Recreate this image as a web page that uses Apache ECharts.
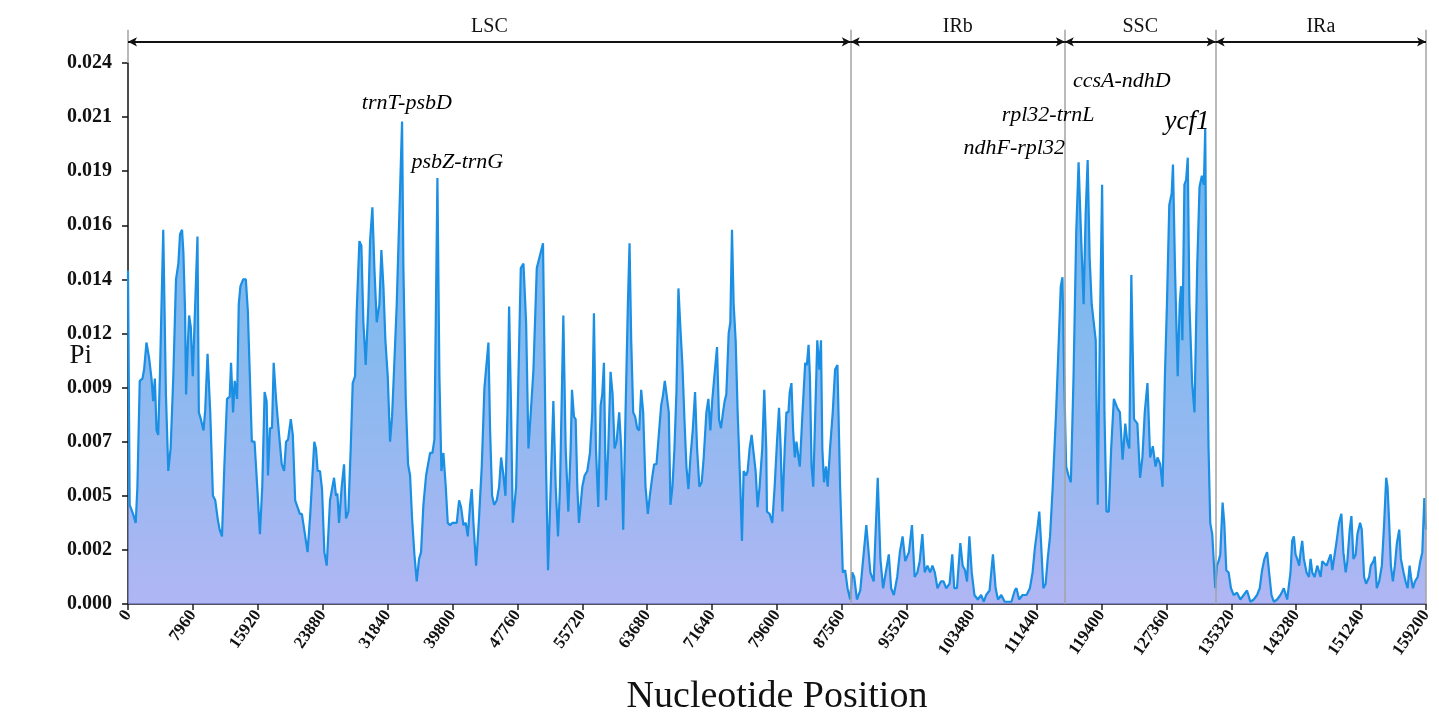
<!DOCTYPE html>
<html>
<head>
<meta charset="utf-8">
<script src="https://cdn.jsdelivr.net/npm/echarts@6/dist/echarts.min.js"></script>
<style>
  html, body { margin: 0; padding: 0; background: #fff; }
  #main { width: 1439px; height: 713px; }
</style>
</head>
<body>
<div id="main"></div>
<script>
// 滑动窗口核苷酸多样性 (Pi)，[位置, Pi]
var lscData = [
  [0,0.0148],[206,0.0044],[618,0.0040],[947,0.0036],[1153,0.0052],[1441,0.0099],[1770,0.0100],[1976,0.0104],[2264,0.0116],[2594,0.0109],
  [2882,0.0100],[3088,0.0090],[3294,0.0100],[3499,0.0077],[3705,0.0075],[3911,0.0101],[4323,0.0166],[4652,0.0093],[4940,0.0059],[5229,0.0069],
  [5558,0.0101],[5887,0.0144],[6176,0.0151],[6381,0.0164],[6628,0.0166],[6793,0.0156],[6999,0.0130],[7122,0.0093],[7328,0.0114],[7493,0.0128],
  [7699,0.0123],[7946,0.0101],[8522,0.0163],[8687,0.0085],[8934,0.0082],[9263,0.0077],[9469,0.0086],[9757,0.0111],[10087,0.0085],[10416,0.0048],
  [10704,0.0046],[10992,0.0038],[11239,0.0033],[11528,0.0030],[11816,0.0061],[12145,0.0091],[12475,0.0092],[12639,0.0107],[12886,0.0085],[13092,0.0099],
  [13380,0.0091],[13586,0.0133],[13792,0.0141],[14121,0.0144],[14451,0.0144],[14698,0.0130],[14945,0.0101],[15192,0.0072],[15521,0.0072],[15850,0.0052],
  [16180,0.0031],[16468,0.0052],[16756,0.0094],[17003,0.0090],[17168,0.0057],[17415,0.0078],[17662,0.0078],[17868,0.0107],[18156,0.0091],[18486,0.0077],
  [18856,0.0062],[19144,0.0059],[19391,0.0072],[19638,0.0073],[19967,0.0082],[20214,0.0075],[20503,0.0046],[20791,0.0043],[21079,0.0040],[21326,0.0040],
  [21614,0.0033],[22026,0.0023],[22355,0.0040],[22849,0.0072],[23055,0.0069],[23261,0.0059],[23549,0.0059],[23796,0.0051],[24084,0.0023],[24372,0.0017],
  [24780,0.0046],[24984,0.0046],[25271,0.0056],[25516,0.0048],[25680,0.0049],[25884,0.0036],[26211,0.0052],[26498,0.0062],[26743,0.0038],[27029,0.0041],
  [27316,0.0069],[27561,0.0098],[27847,0.0101],[28052,0.0130],[28379,0.0161],[28624,0.0159],[28870,0.0125],[29156,0.0106],[29483,0.0133],[29688,0.0161],
  [29974,0.0176],[30220,0.0149],[30506,0.0125],[30833,0.0133],[31078,0.0157],[31324,0.0141],[31569,0.0117],[31856,0.0101],[32142,0.0072],[32387,0.0083],
  [32633,0.0104],[32960,0.0133],[33614,0.0214],[33778,0.0149],[34064,0.0091],[34350,0.0062],[34596,0.0057],[34841,0.0038],[35128,0.0022],[35414,0.0010],
  [35700,0.0020],[35946,0.0023],[36232,0.0044],[36559,0.0057],[36804,0.0062],[37050,0.0067],[37336,0.0067],[37582,0.0073],[37950,0.0189],[38195,0.0101],
  [38440,0.0059],[38686,0.0067],[38972,0.0052],[39218,0.0036],[39504,0.0035],[39790,0.0036],[40036,0.0036],[40322,0.0036],[40608,0.0046],[40854,0.0043],
  [41140,0.0035],[41426,0.0036],[41672,0.0030],[41958,0.0044],[42162,0.0051],[42367,0.0036],[42694,0.0017],[43021,0.0036],[43389,0.0061],[43716,0.0096],
  [44207,0.0116],[44412,0.0077],[44657,0.0048],[44902,0.0044],[45230,0.0046],[45516,0.0052],[45762,0.0065],[46048,0.0057],[46293,0.0048],[46539,0.0085],
  [46743,0.0132],[46989,0.0085],[47193,0.0036],[47602,0.0052],[47888,0.0101],[48175,0.0149],[48502,0.0151],[48829,0.0125],[49116,0.0069],[49402,0.0085],
  [49729,0.0104],[50138,0.0149],[50900,0.0160],[51232,0.0069],[51518,0.0015],[51844,0.0052],[52170,0.0090],[52456,0.0052],[52742,0.0030],[52986,0.0052],
  [53394,0.0128],[53680,0.0069],[54006,0.0041],[54292,0.0069],[54455,0.0095],[54700,0.0083],[54904,0.0082],[55108,0.0052],[55312,0.0036],[55720,0.0052],
  [56006,0.0057],[56332,0.0059],[56658,0.0067],[56944,0.0085],[57148,0.0129],[57393,0.0069],[57678,0.0043],[57964,0.0088],[58168,0.0093],[58372,0.0107],
  [58617,0.0046],[58902,0.0069],[59188,0.0103],[59433,0.0093],[59678,0.0069],[59922,0.0072],[60249,0.0085],[60494,0.0069],[60738,0.0033],[61024,0.0085],
  [61310,0.0133],[61514,0.0160],[61718,0.0117],[61962,0.0085],[62207,0.0083],[62452,0.0078],[62697,0.0077],[62942,0.0095],[63186,0.0085],[63472,0.0052],
  [63758,0.0040],[64002,0.0048],[64288,0.0056],[64533,0.0062],[64818,0.0062],[65104,0.0075],[65390,0.0088],[65634,0.0093],[65838,0.0099],[66124,0.0091],
  [66328,0.0085],[66532,0.0044],[66777,0.0052],[67022,0.0069],[67266,0.0094],[67511,0.0140],[67756,0.0122],[68001,0.0106],[68246,0.0082],[68490,0.0061],
  [68735,0.0051],[68980,0.0065],[69266,0.0077],[69551,0.0094],[69796,0.0069],[70082,0.0052],[70367,0.0054],[70612,0.0065],[70938,0.0085],[71183,0.0091],
  [71428,0.0077],[71673,0.0091],[71918,0.0101],[72244,0.0114],[72489,0.0082],[72734,0.0078],[72978,0.0085],[73182,0.0090],[73386,0.0093],[73672,0.0120],
  [73876,0.0125],[74080,0.0166],[74284,0.0133],[74529,0.0117],[74774,0.0085],[75100,0.0052],[75304,0.0028],[75508,0.0059],[75794,0.0057],[75998,0.0059],
  [76242,0.0069],[76487,0.0075],[76732,0.0075],[76977,0.0059],[77222,0.0043],[77466,0.0052],[77792,0.0069],[78038,0.0095],[78282,0.0069],[78365,0.0041],
  [78694,0.0040],[79023,0.0036],[79312,0.0052],[79600,0.0072],[79847,0.0087],[80053,0.0069],[80259,0.0041],[80547,0.0069],[80753,0.0085],[81000,0.0085],
  [81165,0.0094],[81371,0.0098],[81577,0.0077],[81783,0.0065],[81988,0.0072],[82236,0.0065],[82400,0.0061],[82730,0.0085],[83059,0.0107],[83265,0.0106],
  [83471,0.0115],[83636,0.0101],[83842,0.0061],[84047,0.0052],[84295,0.0085],[84542,0.0117],[84789,0.0104],[84995,0.0117],[85159,0.0069],[85365,0.0054],
  [85612,0.0061],[85818,0.0052],[86106,0.0069],[86436,0.0085],[86724,0.0104],[87012,0.0106],[87342,0.0052],[87671,0.0014],[87960,0.0015],[88248,0.0007],
  [88577,0.0002]
];
var irbData = [
  [88824,0.0014],[89071,0.0012],[89401,0.0002],[89813,0.0006],[90554,0.0035],[91048,0.0014],[91460,0.0010],[91954,0.0056],[92283,0.0020],[92613,0.0007],
  [93313,0.0022],[93601,0.0007],[93931,0.0004],[94342,0.0012],[94672,0.0023],[95001,0.0030],[95331,0.0019],[95784,0.0023],[96154,0.0035],[96484,0.0012],
  [96813,0.0014],[97102,0.0019],[97431,0.0031],[97719,0.0014],[98049,0.0017],[98378,0.0014],[98666,0.0017],[98955,0.0014],[99284,0.0007],[99696,0.0010],
  [100025,0.0010],[100355,0.0007],[100767,0.0009],[101096,0.0022],[101343,0.0007],[101673,0.0007],[102084,0.0027],[102373,0.0017],[102661,0.0015],[102908,0.0010],
  [103196,0.0030],[103484,0.0014],[103813,0.0004],[104225,0.0002],[104637,0.0004],[104966,0.0001],[105254,0.0004],[105672,0.0006],[106084,0.0022],[106414,0.0007],
  [106702,0.0002],[107114,0.0004],[107526,0.0001],[107938,0.0001],[108350,0.0001],[108762,0.0006],[108968,0.0007],[109298,0.0002],[109710,0.0004],[110204,0.0004],
  [110616,0.0007],[110946,0.0014],[111234,0.0025],[111522,0.0033],[111770,0.0041],[111976,0.0028],[112264,0.0007],[112552,0.0009],[112800,0.0020],[113088,0.0030],
  [113418,0.0052],[113830,0.0085],[114159,0.0117],[114406,0.0141],[114612,0.0145],[114818,0.0101]
];
var sscData = [
  [115066,0.0061],[115354,0.0057],[115642,0.0054],[115972,0.0101],[116302,0.0165],[116590,0.0196],[116878,0.0165],[117208,0.0133],[117455,0.0173],[117702,0.0197],
  [117950,0.0153],[118197,0.0133],[118444,0.0125],[118691,0.0117],[118938,0.0044],[119186,0.0117],[119474,0.0186],[119762,0.0085],[120010,0.0041],[120298,0.0041],
  [120586,0.0069],[120916,0.0091],[121328,0.0087],[121658,0.0085],[121987,0.0064],[122317,0.0080],[122564,0.0072],[122811,0.0069],[123058,0.0146],[123388,0.0082],
  [123800,0.0080],[124130,0.0056],[124418,0.0065],[124706,0.0085],[125036,0.0098],[125366,0.0065],[125695,0.0070],[126025,0.0061],[126272,0.0065],[126602,0.0062],
  [126890,0.0052],[127178,0.0101],[127426,0.0133],[127714,0.0177],[128002,0.0182],[128167,0.0195],[128414,0.0149],[128744,0.0101],[128991,0.0133],[129156,0.0141],
  [129321,0.0117],[129568,0.0186],[129774,0.0188],[129980,0.0198],[130186,0.0133],[130516,0.0098],[130804,0.0085],[131134,0.0149],[131422,0.0185],[131710,0.0190],
  [131958,0.0186],[132122,0.0211],[132243,0.0149],[132530,0.0069],[132735,0.0036],[132981,0.0031],[133145,0.0031],[133351,0.0007]
];
var iraData = [
  [133556,0.0017],[133761,0.0019],[133966,0.0022],[134253,0.0045],[134458,0.0036],[134705,0.0015],[134992,0.0014],[135279,0.0007],[135607,0.0004],[136018,0.0005],
  [136428,0.0002],[136838,0.0004],[137248,0.0006],[137659,0.0001],[138069,0.0002],[138479,0.0004],[138808,0.0007],[139095,0.0015],[139382,0.0020],[139710,0.0023],
  [139956,0.0014],[140244,0.0004],[140531,0.0001],[140941,0.0002],[141351,0.0004],[141762,0.0007],[142172,0.0002],[142582,0.0014],[142787,0.0028],[142993,0.0030],
  [143198,0.0022],[143403,0.0020],[143649,0.0017],[143813,0.0023],[144018,0.0028],[144224,0.0020],[144552,0.0014],[144839,0.0012],[145044,0.0020],[145249,0.0014],
  [145536,0.0012],[145864,0.0017],[146070,0.0017],[146275,0.0012],[146480,0.0019],[146685,0.0019],[147013,0.0017],[147301,0.0020],[147506,0.0022],[147711,0.0015],
  [147916,0.0020],[148244,0.0028],[148531,0.0036],[148819,0.0040],[149065,0.0023],[149352,0.0014],[149557,0.0019],[149845,0.0033],[150050,0.0039],[150296,0.0020],
  [150583,0.0022],[150788,0.0031],[151117,0.0036],[151322,0.0033],[151609,0.0012],[151855,0.0009],[152224,0.0012],[152430,0.0017],[152758,0.0019],[152922,0.0021],
  [153168,0.0007],[153455,0.0010],[153784,0.0017],[154071,0.0036],[154317,0.0056],[154481,0.0052],[154686,0.0036],[154891,0.0017],[155137,0.0010],[155383,0.0017],
  [155629,0.0027],[155917,0.0033],[156122,0.0020],[156450,0.0014],[156696,0.0010],[156942,0.0007],[157188,0.0017],[157352,0.0012],[157598,0.0007],[157845,0.0010],
  [158173,0.0012],[158501,0.0019],[158747,0.0023],[158995,0.0047],[159200,0.0033]
];

// 区域划分
var regionNames = ['LSC', 'IRb', 'SSC', 'IRa'];
var regionBounds = [0, 88650, 114900, 133400, 159200];

// 坐标轴刻度
var yTickLabels = ['0.000','0.002','0.005','0.007','0.009','0.012','0.014','0.016','0.019','0.021','0.024'];
var yStep = 0.0024;
var xStep = 7960;

// 高变区标注
var annNames = ['trnT-psbD', 'psbZ-trnG', 'ccsA-ndhD', 'rpl32-trnL', 'ndhF-rpl32', 'ycf1'];
var annPos = [34200, 40400, 121900, 112850, 108700, 129900];
var annPi = [0.0222, 0.0196, 0.0232, 0.0217, 0.0202, 0.0214];

var serif = 'Liberation Serif';
var chart = echarts.init(document.getElementById('main'));

var piData = lscData.concat(irbData, sscData, iraData);

// 顶部区域箭头
var arrowLines = regionNames.map(function (name, i) {
    return [
        { coord: [regionBounds[i], 0.47], name: name },
        { coord: [regionBounds[i + 1], 0.47] }
    ];
});
var topTicks = regionBounds.map(function (b) {
    return [{ coord: [b, 0] }, { coord: [b, 0.74] }];
});
var boundLines = regionBounds.slice(1).map(function (b) {
    return { xAxis: b };
});

var annData = annNames.map(function (n, i) {
    var item = { name: n, value: [annPos[i], annPi[i]] };
    if (n === 'ycf1') {
        item.label = { fontSize: 27 };
    }
    return item;
});

var option = {
    animation: false,
    backgroundColor: '#ffffff',
    grid: [
        { left: 128, right: 13, top: 63, bottom: 109, containLabel: false, outerBoundsMode: 'none' },
        { left: 128, right: 13, top: 18, height: 45, containLabel: false, outerBoundsMode: 'none' }
    ],
    xAxis: [
        {
            type: 'value',
            gridIndex: 0,
            min: 0,
            max: 159200,
            interval: xStep,
            axisLine: { lineStyle: { color: '#1b1b2e', width: 1.5 } },
            axisTick: { length: 6, lineStyle: { color: '#222', width: 1.5 } },
            axisLabel: {
                rotate: 55,
                margin: 8,
                fontFamily: serif,
                fontSize: 17,
                fontWeight: 'bold',
                color: '#111',
                formatter: function (v) { return String(v); }
            },
            splitLine: { show: false },
            name: 'Nucleotide Position',
            nameLocation: 'middle',
            nameGap: 74,
            nameMoveOverlap: false,
            nameTextStyle: { fontFamily: serif, fontSize: 38, color: '#111' }
        },
        { type: 'value', gridIndex: 1, min: 0, max: 159200, show: false }
    ],
    yAxis: [
        {
            type: 'value',
            gridIndex: 0,
            min: 0,
            max: 0.024,
            interval: yStep,
            axisLine: { show: true, lineStyle: { color: '#111', width: 1.5 } },
            axisTick: { show: true, length: 6, lineStyle: { color: '#111', width: 1.5 } },
            axisLabel: {
                margin: 16,
                fontFamily: serif,
                fontSize: 20,
                fontWeight: 'bold',
                color: '#111',
                formatter: function (v) {
                    return yTickLabels[Math.round(v / yStep)];
                }
            },
            splitLine: { show: false },
            name: 'Pi',
            nameLocation: 'middle',
            nameRotate: 0,
            nameGap: 36,
            nameMoveOverlap: false,
            nameTextStyle: { fontFamily: serif, fontSize: 27, color: '#111', verticalAlign: 'top', lineHeight: 44 }
        },
        { type: 'value', gridIndex: 1, min: 0, max: 1, show: false }
    ],
    series: [
        {
            name: 'Pi',
            type: 'line',
            xAxisIndex: 0,
            yAxisIndex: 0,
            data: piData,
            showSymbol: false,
            lineStyle: { color: '#1a8fe3', width: 2.2 },
            areaStyle: {
                color: new echarts.graphic.LinearGradient(0, 0, 0, 1, [
                    { offset: 0, color: '#2a92e6' },
                    { offset: 0.45, color: '#4f9ce8' },
                    { offset: 1, color: '#8e97ee' }
                ])
            },
            markLine: {
                silent: true,
                symbol: 'none',
                label: { show: false },
                lineStyle: { color: '#a3a3a3', width: 1.5, type: 'solid' },
                data: boundLines
            },
            z: 2
        },
        {
            type: 'line',
            xAxisIndex: 1,
            yAxisIndex: 1,
            data: [],
            markLine: {
                silent: true,
                symbol: 'none',
                label: { show: false },
                lineStyle: { color: '#a3a3a3', width: 1.5, type: 'solid' },
                data: topTicks
            },
            z: 2
        },
        {
            type: 'line',
            xAxisIndex: 1,
            yAxisIndex: 1,
            data: [],
            markLine: {
                silent: true,
                symbol: ['arrow', 'arrow'],
                symbolSize: [7, 9],
                label: {
                    show: true,
                    position: 'middle',
                    formatter: '{b}',
                    distance: 5,
                    fontFamily: serif,
                    fontSize: 20,
                    color: '#111'
                },
                lineStyle: { color: '#111', width: 2, type: 'solid' },
                data: arrowLines
            },
            z: 3
        },
        {
            type: 'scatter',
            xAxisIndex: 0,
            yAxisIndex: 0,
            symbolSize: 0,
            silent: true,
            itemStyle: { opacity: 1 },
            data: annData,
            label: {
                show: true,
                position: 'inside',
                formatter: '{b}',
                fontFamily: serif,
                fontStyle: 'italic',
                fontSize: 22,
                color: '#000',
                textBorderWidth: 0
            },
            z: 5
        }
    ]
};

chart.setOption(option);
</script>
</body>
</html>
